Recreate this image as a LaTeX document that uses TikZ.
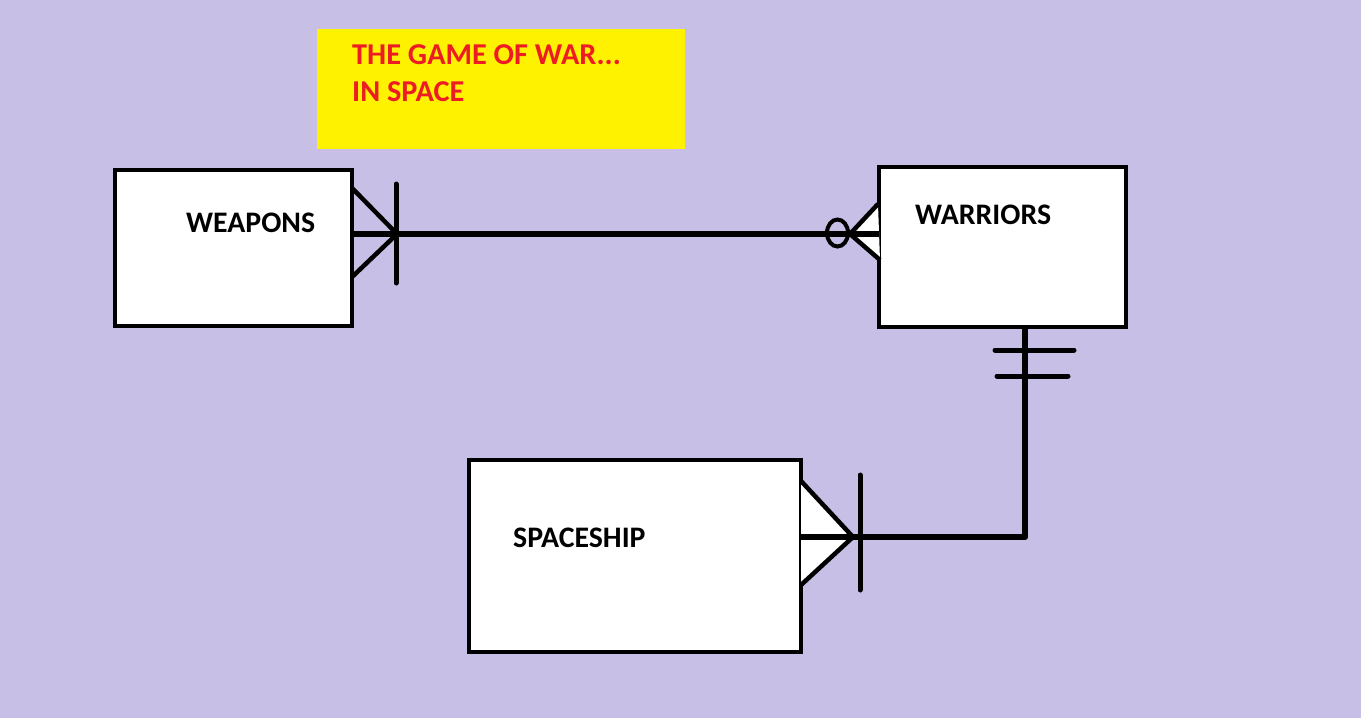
\documentclass[tikz,border=0pt]{standalone}
\usepackage{fontspec}
\setmainfont{Carlito}
\definecolor{bgc}{HTML}{C8BFE7}
\definecolor{ylw}{HTML}{FFF200}
\definecolor{ttl}{HTML}{ED1C24}
\begin{document}
\begin{tikzpicture}[x=1pt,y=-1pt,
  entity/.style={draw=black,line width=4pt,fill=white,inner sep=0pt,outer sep=0pt,anchor=north west},
  lbl/.style={font=\fontsize{29.8}{34}\selectfont\bfseries,anchor=base west,inner sep=0pt},
  ttlbl/.style={font=\fontsize{30.3}{34}\selectfont\bfseries,anchor=base west,inner sep=0pt,text=ttl},
  conn/.style={line width=6.5pt},
  foot/.style={line width=4.5pt},
  bar/.style={line width=5pt,line cap=round}]
\fill[bgc] (0,0) rectangle (1361,718);
\useasboundingbox (0,0) rectangle (1361,718);
% title
\node[fill=ylw,minimum width=368pt,minimum height=120pt,inner sep=0pt,outer sep=0pt,anchor=north west] (title) at (317,29) {};
\node[ttlbl] (t1) at (352,64) {THE GAME OF WAR...};
\node[ttlbl] (t2) at (352,101) {IN SPACE};
% entities
\node[entity,minimum width=237pt,minimum height=156pt] (weapons) at (115,170) {};
\node[entity,minimum width=247pt,minimum height=160pt] (warriors) at (879,167) {};
\node[entity,minimum width=332pt,minimum height=192pt] (spaceship) at (469,460) {};
\node[lbl] (wl) at (186,232) {WEAPONS};
\node[lbl] (wal) at (915,224) {WARRIORS};
\node[lbl] (sl) at (513,547) {SPACESHIP};
% weapons - warriors
\coordinate (a1) at (weapons.north east |- 0,234);
\coordinate (a2) at (warriors.north west |- 0,234);
\coordinate (wk) at (397,234);
\coordinate (ck) at (850,234);
\fill[white] (878,204) -- (ck) -- (880,260) -- cycle;
\draw[conn] (a1) -- (a2);
\draw[foot] (352,188) -- (wk) -- (352,277);
\draw[bar] (396,184) -- (396,283);
\draw[foot] (878,204) -- (ck) -- (880,260);
\draw[line width=4pt] (837.5,233) ellipse [x radius=10.5pt, y radius=13.5pt];
% warriors - spaceship
\coordinate (corner) at (1025,537);
\coordinate (sk) at (853,537);
\fill[white] (801,481) -- (sk) -- (801,585) -- cycle;
\draw[conn,line join=round] (warriors.south -| corner) -- (corner) -- (spaceship.east |- corner);
\draw[bar] (995,350) -- (1074,350);
\draw[bar] (997,376) -- (1068,376);
\draw[foot] (801,481) -- (sk) -- (801,585);
\draw[bar] (860,475) -- (860,590);
\end{tikzpicture}
\end{document}
